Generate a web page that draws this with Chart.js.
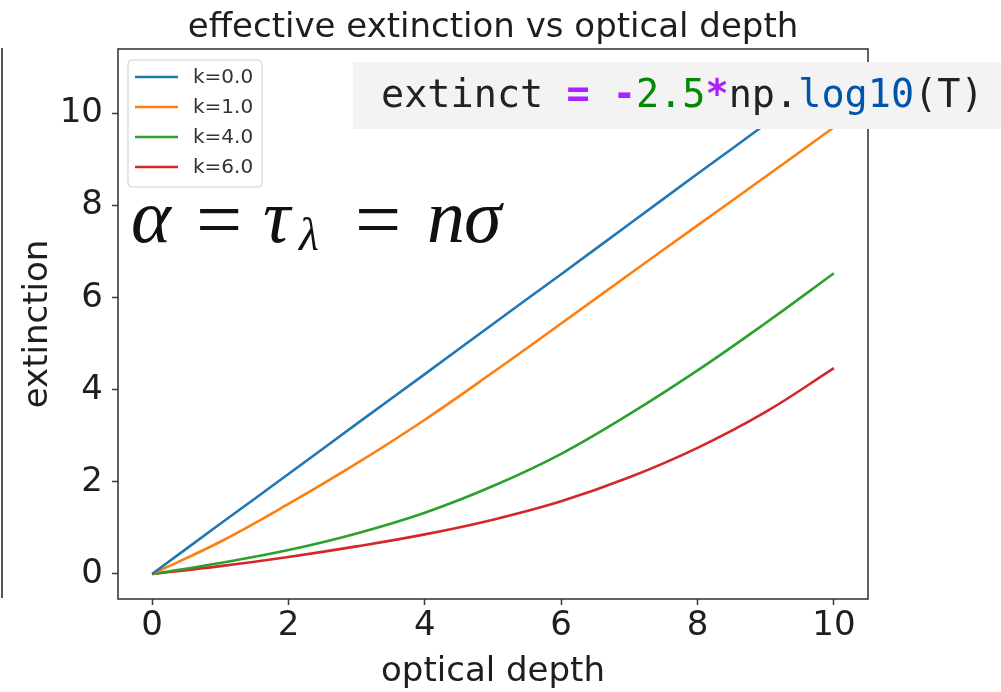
<!DOCTYPE html>
<html>
<head>
<meta charset="utf-8">
<script src="https://cdn.jsdelivr.net/npm/chart.js@4.4.1/dist/chart.umd.min.js"></script>
<style>
    html, body { margin: 0; padding: 0; background: #fff; }
    #wrap { width: 1001px; height: 692px; position: relative; }
</style>
</head>
<body>
<div id="wrap"><canvas id="extChart" width="1001" height="692"></canvas></div>
<script>
// optical depth samples and the effective extinction for each k
var tau   = [0, 1, 2, 3, 4, 5, 6, 7, 8, 9, 10];
var extK0 = [0, 1.09, 2.17, 3.26, 4.34, 5.43, 6.51, 7.60, 8.69, 9.77, 10.86];
var extK1 = [0, 0.70, 1.52, 2.40, 3.35, 4.38, 5.44, 6.51, 7.57, 8.63, 9.70];
var extK4 = [0, 0.24, 0.52, 0.88, 1.33, 1.91, 2.61, 3.47, 4.42, 5.45, 6.53];
var extK6 = [0, 0.17, 0.37, 0.60, 0.86, 1.18, 1.58, 2.10, 2.74, 3.52, 4.47];
var kLabels = ['k=0.0', 'k=1.0', 'k=4.0', 'k=6.0'];
var kColors = ['#1f77b4', '#ff7f0e', '#2ca02c', '#d62728'];
var xTicks = [0, 2, 4, 6, 8, 10];
var yTicks = [0, 2, 4, 6, 8, 10];

var FONT = "'DejaVu Sans', sans-serif";
var INK = '#1e1e1e';
var SPINE = '#3a3a3a';

Chart.defaults.font.family = FONT;

function pts(ys) {
    return tau.map((t, i) => ({ x: t, y: ys[i] }));
}

let series = [extK0, extK1, extK4, extK6];
let datasets = series.map((ys, i) => ({
    label: kLabels[i],
    data: pts(ys),
    borderColor: kColors[i],
    backgroundColor: kColors[i],
    borderWidth: 2.6,
    pointRadius: 0,
    tension: 0.4,
    fill: false
}));

// frame, legend, annotations and the code snippet on top
let extras = {
    id: 'extras',
    afterDraw(chart) {
        let ctx = chart.ctx;
        let a = chart.chartArea;
        ctx.save();

        // axes frame
        ctx.strokeStyle = SPINE;
        ctx.lineWidth = 1.6;
        ctx.strokeRect(a.left, a.top, a.right - a.left, a.bottom - a.top);

        // stray panel edge on the far left
        ctx.beginPath();
        ctx.moveTo(2, 48);
        ctx.lineTo(2, 598);
        ctx.strokeStyle = '#555';
        ctx.lineWidth = 2;
        ctx.stroke();

        // title
        ctx.fillStyle = INK;
        ctx.font = '34px ' + FONT;
        ctx.textAlign = 'center';
        ctx.textBaseline = 'alphabetic';
        ctx.fillText('effective extinction vs optical depth', (a.left + a.right) / 2, 37);

        // legend
        let lx = 128, ly = 60, lw = 134, lh = 127;
        ctx.beginPath();
        ctx.roundRect(lx, ly, lw, lh, 4);
        ctx.fillStyle = 'rgba(255,255,255,0.85)';
        ctx.fill();
        ctx.strokeStyle = '#cfcfcf';
        ctx.lineWidth = 1;
        ctx.stroke();
        ctx.font = '20px ' + FONT;
        ctx.textAlign = 'left';
        ctx.textBaseline = 'middle';
        chart.data.datasets.forEach((ds, i) => {
            let ry = 77 + i * 30;
            ctx.beginPath();
            ctx.moveTo(135, ry);
            ctx.lineTo(178, ry);
            ctx.strokeStyle = ds.borderColor;
            ctx.lineWidth = 2.6;
            ctx.stroke();
            ctx.fillStyle = '#333';
            ctx.fillText(ds.label, 193, ry + 1);
        });

        // alpha = tau_lambda = n sigma
        let serif = "'Liberation Serif', serif";
        ctx.fillStyle = '#111';
        ctx.textBaseline = 'alphabetic';
        ctx.font = 'italic 76px ' + serif;
        ctx.fillText('α', 131, 242);
        ctx.fillText('τ', 263, 242);
        ctx.fillText('n', 427, 242);
        ctx.fillText('σ', 464, 242);
        ctx.font = 'italic 46px ' + serif;
        ctx.fillText('λ', 299, 250);
        ctx.font = '82px ' + serif;
        ctx.fillText('=', 196, 247);
        ctx.fillText('=', 355, 247);

        // code snippet
        ctx.fillStyle = '#f3f3f3';
        ctx.fillRect(353, 62, 1001 - 353, 67);
        let mono = "'DejaVu Sans Mono', monospace";
        let parts = [
            ['extinct ', '#222', false],
            ['=', '#aa22ff', true],
            [' ', '#222', false],
            ['-', '#aa22ff', true],
            ['2.5', '#008800', false],
            ['*', '#aa22ff', true],
            ['np.', '#222', false],
            ['log10', '#0055aa', false],
            ['(T)', '#222', false]
        ];
        let cx = 381;
        parts.forEach(p => {
            ctx.font = (p[2] ? 'bold ' : '') + '38.5px ' + mono;
            ctx.fillStyle = p[1];
            ctx.fillText(p[0], cx, 107);
            cx += ctx.measureText(p[0]).width;
        });

        ctx.restore();
    }
};

new Chart(document.getElementById('extChart').getContext('2d'), {
    type: 'line',
    data: { datasets: datasets },
    options: {
        responsive: false,
        animation: false,
        devicePixelRatio: 1,
        layout: { padding: { left: 0, top: 49, right: 133, bottom: 0 } },
        plugins: {
            legend: { display: false },
            title: { display: false },
            tooltip: { enabled: false }
        },
        scales: {
            x: {
                type: 'linear',
                min: -0.5,
                max: 10.5,
                afterBuildTicks: (scale) => { scale.ticks = xTicks.map(v => ({ value: v })); },
                afterFit: (scale) => { scale.height = 93; },
                border: { display: false },
                grid: {
                    drawOnChartArea: false,
                    drawTicks: true,
                    tickLength: 6,
                    tickWidth: 1.5,
                    tickColor: SPINE
                },
                ticks: {
                    color: INK,
                    padding: 4,
                    maxRotation: 0,
                    font: { size: 34, lineHeight: 1 }
                },
                title: {
                    display: true,
                    text: 'optical depth',
                    color: INK,
                    font: { size: 34, lineHeight: 1 },
                    padding: { top: 0, bottom: 3 }
                }
            },
            y: {
                type: 'linear',
                min: -0.543,
                max: 11.4,
                afterBuildTicks: (scale) => { scale.ticks = yTicks.map(v => ({ value: v })); },
                afterFit: (scale) => { scale.width = 118; },
                border: { display: false },
                grid: {
                    drawOnChartArea: false,
                    drawTicks: true,
                    tickLength: 6,
                    tickWidth: 1.5,
                    tickColor: SPINE
                },
                ticks: {
                    color: INK,
                    padding: 9,
                    font: { size: 34, lineHeight: 1 }
                },
                title: {
                    display: true,
                    text: 'extinction',
                    color: INK,
                    font: { size: 34, lineHeight: 1 },
                    padding: { top: 21, bottom: 0 }
                }
            }
        }
    },
    plugins: [extras]
});
</script>
</body>
</html>
